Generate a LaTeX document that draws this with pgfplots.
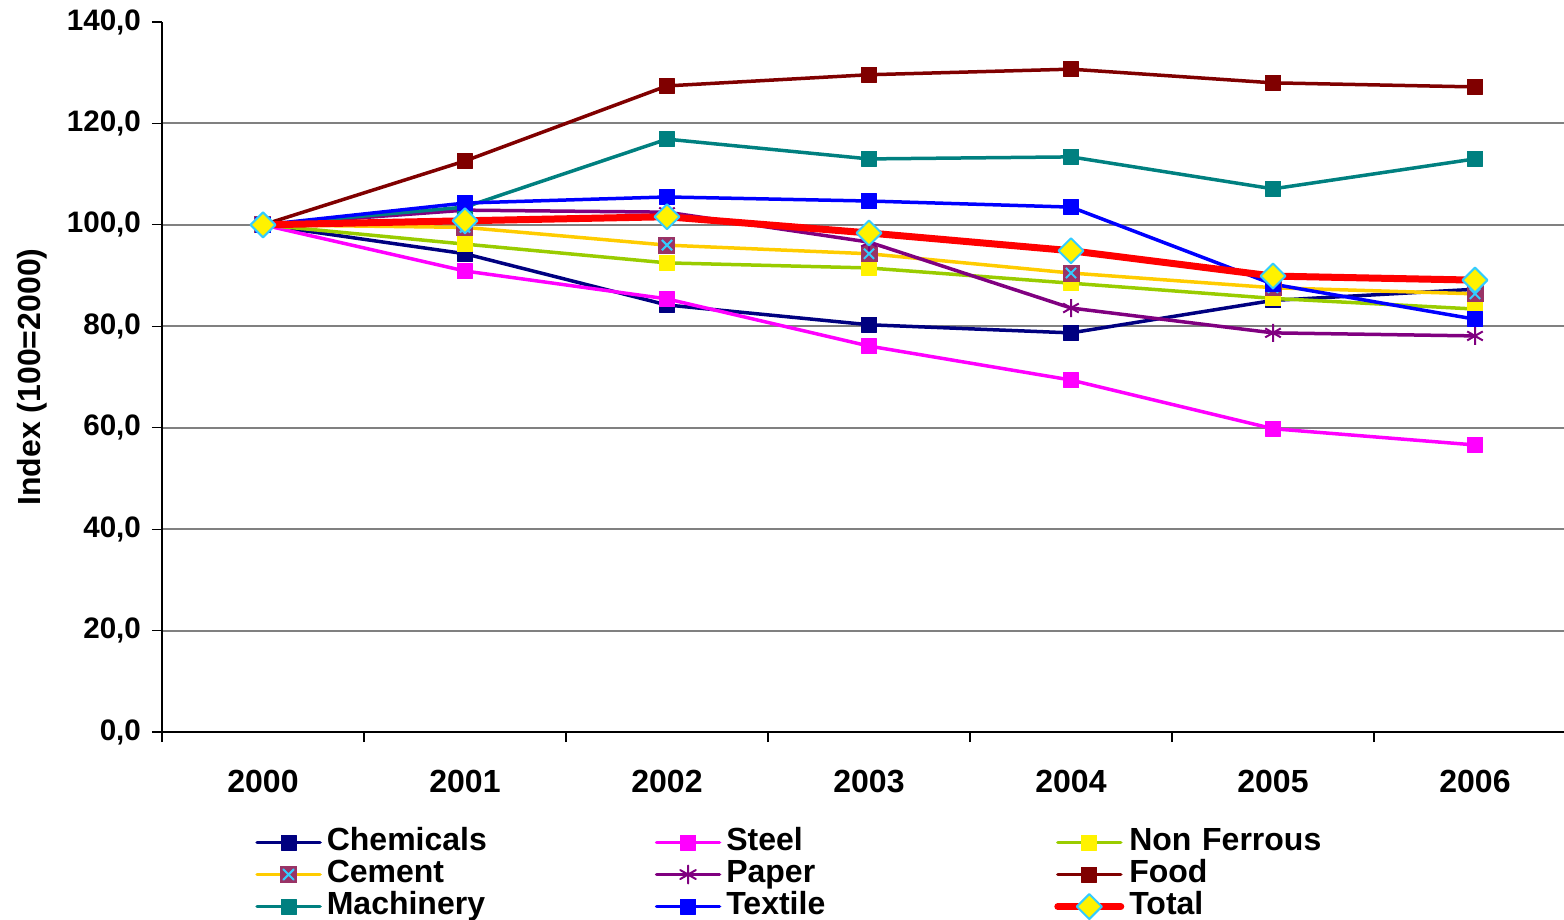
\documentclass[border=0pt]{standalone}
\usepackage{pgfplots}
\pgfplotsset{compat=1.18}
\usepackage{fontspec}
\setmainfont{Liberation Sans}
\definecolor{chem}{HTML}{000080}
\definecolor{steel}{HTML}{FF00FF}
\definecolor{nonf}{HTML}{99CC00}
\definecolor{cem}{HTML}{FFCC00}
\definecolor{cemfill}{HTML}{993366}
\definecolor{cyanx}{HTML}{33CCFF}
\definecolor{paper}{HTML}{800080}
\definecolor{food}{HTML}{800000}
\definecolor{mach}{HTML}{008080}
\definecolor{textilec}{HTML}{0000FF}
\definecolor{tot}{HTML}{FF0000}
\definecolor{gridc}{HTML}{808080}
\pgfdeclareplotmark{cementmark}{%
  \pgfpathrectangle{\pgfqpoint{-\pgfplotmarksize}{-\pgfplotmarksize}}{\pgfqpoint{2\pgfplotmarksize}{2\pgfplotmarksize}}%
  \pgfsetfillcolor{cemfill}\pgfusepath{fill}%
  \pgfsetstrokecolor{cyanx}\pgfsetlinewidth{1pt}%
  \pgfpathmoveto{\pgfqpoint{-0.6\pgfplotmarksize}{-0.6\pgfplotmarksize}}%
  \pgfpathlineto{\pgfqpoint{0.6\pgfplotmarksize}{0.6\pgfplotmarksize}}%
  \pgfpathmoveto{\pgfqpoint{-0.6\pgfplotmarksize}{0.6\pgfplotmarksize}}%
  \pgfpathlineto{\pgfqpoint{0.6\pgfplotmarksize}{-0.6\pgfplotmarksize}}%
  \pgfusepath{stroke}}
\pgfdeclareplotmark{totdiamond}{%
  \pgfpathmoveto{\pgfqpoint{0pt}{\pgfplotmarksize}}%
  \pgfpathlineto{\pgfqpoint{\pgfplotmarksize}{0pt}}%
  \pgfpathlineto{\pgfqpoint{0pt}{-\pgfplotmarksize}}%
  \pgfpathlineto{\pgfqpoint{-\pgfplotmarksize}{0pt}}%
  \pgfpathclose
  \pgfusepathqfillstroke}
\begin{document}
\begin{tikzpicture}
\useasboundingbox (-81pt,-94pt) rectangle (701pt,366pt);
\begin{axis}[
  width=707pt, height=355pt, scale only axis,
  at={(0,0)}, anchor=south west,
  xmin=-0.5, xmax=6.5, ymin=0, ymax=140,
  axis x line*=bottom, axis y line*=left,
  axis line style={black, line width=0.8pt},
  xtick={0,...,6},
  xticklabels={2000,2001,2002,2003,2004,2005,2006},
  major x tick style={draw=none},
  minor xtick={-0.5,0.5,...,6.5},
  tick align=outside,
  major tick length=5pt, minor tick length=5pt,
  tick style={black, line width=0.6pt},
  ytick={0,20,...,120},
  extra y ticks={140},
  extra y tick style={grid=none},
  ymajorgrids,
  grid style={gridc, line width=1pt},
  /pgf/number format/.cd, fixed, fixed zerofill, precision=1, use comma, assume math mode=true, /pgfplots/.cd,
  yticklabel style={font=\bfseries\fontsize{14.8}{14.8}\selectfont, xshift=-2pt},
  xticklabel style={font=\bfseries\fontsize{16}{16}\selectfont, yshift=-10.5pt},
  ylabel={Index (100=2000)},
  every axis y label/.style={at={(axis description cs:-0.0917,0.5)}, rotate=90, anchor=center, font=\bfseries\fontsize{16}{16}\selectfont},
  legend columns=3,
  legend style={draw=none, fill=none, at={(axis description cs:0.0657,-0.1326)}, anchor=north west,
    inner sep=0pt, column sep=0pt, row sep=0pt,
    nodes={font=\bfseries\fontsize{16}{16}\selectfont, inner xsep=2.5pt, inner ysep=0pt, text height=12pt, text depth=4pt, text width=161.5pt, align=left}},
  legend image code/.code={\draw[mark repeat=2,mark phase=2,line cap=round] plot coordinates {(0pt,0pt) (15.75pt,0pt) (31.5pt,0pt)};},
]
\addplot[chem, line width=1.75pt, line join=round, mark=square*, mark size=3.75pt, mark options={fill=chem, draw=chem, line width=0.5pt}] coordinates {(0,100) (1,94.3) (2,84.2) (3,80.3) (4,78.7) (5,85.1) (6,87.3)};
\addlegendentry{Chemicals}
\addplot[steel, line width=1.75pt, line join=round, mark=square*, mark size=3.75pt, mark options={fill=steel, draw=steel, line width=0.5pt}] coordinates {(0,100) (1,90.9) (2,85.4) (3,76.1) (4,69.4) (5,59.8) (6,56.6)};
\addlegendentry{Steel}
\addplot[nonf, line width=1.75pt, line join=round, mark=square*, mark size=3.75pt, mark options={fill=yellow, draw=yellow, line width=0.5pt}] coordinates {(0,100) (1,96.2) (2,92.5) (3,91.5) (4,88.5) (5,85.5) (6,83.4)};
\addlegendentry{Non Ferrous}
\addplot[cem, line width=1.75pt, line join=round, mark=cementmark, mark size=4.25pt] coordinates {(0,100) (1,99.5) (2,96.0) (3,94.3) (4,90.5) (5,87.6) (6,86.4)};
\addlegendentry{Cement}
\addplot[paper, line width=1.75pt, line join=round, mark=asterisk, mark size=4.5pt, mark options={line width=1pt}] coordinates {(0,100) (1,102.9) (2,102.5) (3,96.6) (4,83.6) (5,78.7) (6,78.1)};
\addlegendentry{Paper}
\addplot[food, line width=1.75pt, line join=round, mark=square*, mark size=3.75pt, mark options={fill=food, draw=food, line width=0.5pt}] coordinates {(0,100) (1,112.6) (2,127.4) (3,129.6) (4,130.7) (5,128.0) (6,127.2)};
\addlegendentry{Food}
\addplot[mach, line width=1.75pt, line join=round, mark=square*, mark size=3.75pt, mark options={fill=mach, draw=mach, line width=0.5pt}] coordinates {(0,100) (1,103.5) (2,116.9) (3,113.0) (4,113.4) (5,107.1) (6,113.0)};
\addlegendentry{Machinery}
\addplot[textilec, line width=1.75pt, line join=round, mark=square*, mark size=3.75pt, mark options={fill=textilec, draw=textilec, line width=0.5pt}] coordinates {(0,100) (1,104.3) (2,105.5) (3,104.7) (4,103.5) (5,88.3) (6,81.4)};
\addlegendentry{Textile}
\addplot[tot, line width=3.5pt, line join=round, mark=totdiamond, mark size=6.25pt, mark options={fill=yellow, draw=cyanx, line width=1pt}] coordinates {(0,100) (1,100.8) (2,101.6) (3,98.4) (4,94.9) (5,89.9) (6,89.1)};
\addlegendentry{Total}
\end{axis}
\end{tikzpicture}
\end{document}
